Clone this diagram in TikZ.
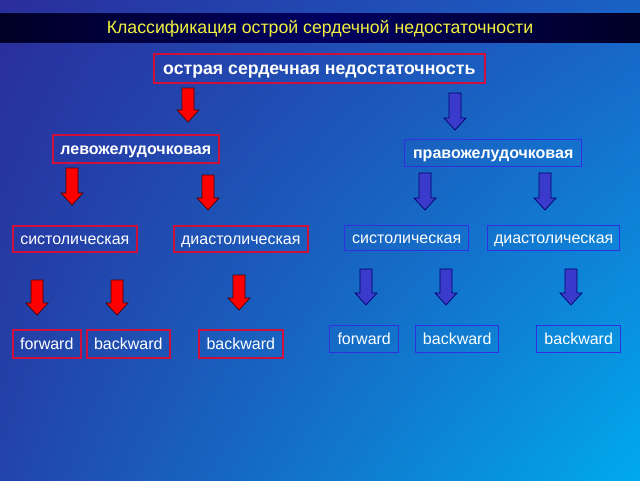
\documentclass[tikz,border=0pt]{standalone}
\usepackage{fontspec}
\setmainfont{Liberation Sans}
\usetikzlibrary{shadings}
\definecolor{bgTL}{HTML}{2A2E9C}
\definecolor{bgTR}{HTML}{1A62C6}
\definecolor{bgBL}{HTML}{2244AA}
\definecolor{bgBR}{HTML}{00AAEE}
\definecolor{redline}{HTML}{D0103C}
\definecolor{blueline}{HTML}{3030E0}
\definecolor{titleyellow}{HTML}{F2F040}
\definecolor{arrowred}{HTML}{FF0000}
\definecolor{arrowblue}{HTML}{3A3ACC}
\newcommand\blockarrow[4]{%
  \draw[#1] (#2-6,#3) -- (#2+6,#3) -- (#2+6,#4-12) -- (#2+11,#4-12) -- (#2,#4)
    -- (#2-11,#4-12) -- (#2-6,#4-12) -- cycle;}
\tikzset{
  redbox/.style={draw=redline, line width=1.6pt, text=white, inner sep=0pt, anchor=north west},
  bluebox/.style={draw=blueline, line width=1.4pt, text=white, inner sep=0pt, anchor=north west},
  redarr/.style={fill=arrowred, draw=black!70!red, line width=0.7pt},
  bluearr/.style={fill=arrowblue, draw=black!60!blue, line width=0.7pt},
  lvl1/.style={font=\bfseries\fontsize{17.7}{19}\selectfont, text height=13.6pt, text depth=2pt},
  lvl2/.style={font=\bfseries\fontsize{16}{18}\selectfont, text height=12.6pt, text depth=2.2pt},
  lvl3/.style={font=\fontsize{16}{18}\selectfont, text height=12.6pt, text depth=2.2pt},
}
\newcommand\bx[7]{% style, name, x1, y1, x2, y2, text
  \node[#1, minimum width=#5-#3, minimum height=#6-#4] (#2) at (#3,#4) {#7};}
\begin{document}
\begin{tikzpicture}[x=1pt,y=-1pt]
\useasboundingbox (0,0) rectangle (640,480);
\shade[shading=bilinear interpolation, upper left=bgTL, upper right=bgTR, lower left=bgBL, lower right=bgBR] (0,0) rectangle (640,480);
\shade[left color=black!85!blue, right color=black!85!blue, middle color=black!62!blue] (0,13) rectangle (640,42);
\node[text=titleyellow, font=\fontsize{17.7}{19}\selectfont, text height=13.6pt, text depth=2pt] (title) at (320,27.5) {Классификация острой сердечной недостаточности};

\bx{redbox,lvl1}{acute}{153}{53}{484}{82}{острая сердечная недостаточность}
\bx{redbox,lvl2}{lv}{52}{134}{218}{162}{левожелудочковая}
\bx{bluebox,lvl2}{rv}{404}{139}{581}{166}{правожелудочковая}

\bx{redbox,lvl3}{lvs}{12}{225}{136}{251}{систолическая}
\bx{redbox,lvl3}{lvd}{173}{225}{307}{251}{диастолическая}
\bx{bluebox,lvl3}{rvs}{344}{225}{468}{250}{систолическая}
\bx{bluebox,lvl3}{rvd}{487}{225}{619}{250}{диастолическая}

\bx{redbox,lvl3}{lvsf}{12}{329}{80}{357}{forward}
\bx{redbox,lvl3}{lvsb}{86}{329}{169}{357}{backward}
\bx{redbox,lvl3}{lvdb}{198}{329}{282}{357}{backward}
\bx{bluebox,lvl3}{rvsf}{329}{325}{398}{352}{forward}
\bx{bluebox,lvl3}{rvsb}{415}{325}{498}{352}{backward}
\bx{bluebox,lvl3}{rvdb}{536}{325}{620}{352}{backward}

\blockarrow{redarr}{188}{88}{122}
\blockarrow{bluearr}{455}{93}{130}
\blockarrow{redarr}{72}{168}{205}
\blockarrow{redarr}{208}{175}{210}
\blockarrow{bluearr}{425}{173}{210}
\blockarrow{bluearr}{545}{173}{210}
\blockarrow{redarr}{37}{280}{315}
\blockarrow{redarr}{117}{280}{315}
\blockarrow{redarr}{239}{275}{310}
\blockarrow{bluearr}{366}{269}{305}
\blockarrow{bluearr}{446}{269}{305}
\blockarrow{bluearr}{571}{269}{305}
\end{tikzpicture}
\end{document}
